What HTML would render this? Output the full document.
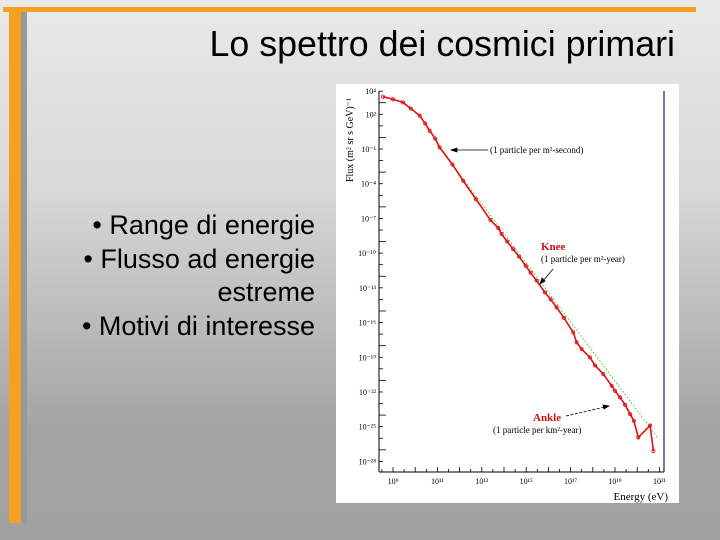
<!DOCTYPE html>
<html><head><meta charset="utf-8"><style>
html,body{margin:0;padding:0}
body{width:720px;height:540px;position:relative;overflow:hidden;background:linear-gradient(#e9e9e9 0%,#d8d8d8 35%,#a3a3a3 80%,#a1a1a1 100%);font-family:"Liberation Sans",sans-serif}
.abs{position:absolute}
</style></head><body>
<div class="abs" style="left:3px;top:7px;width:693px;height:5px;background:#f6a020"></div>
<div class="abs" style="left:9px;top:12px;width:18px;height:511px;background:#999"></div>
<div class="abs" style="left:9px;top:12px;width:12px;height:511px;background:#f6a020"></div>
<div class="abs" style="right:45px;top:23px;font-size:35.8px;line-height:42px;color:#000;white-space:nowrap">Lo spettro dei cosmici primari</div>
<div class="abs" style="right:405px;top:209px;font-size:27px;line-height:33.5px;text-align:right;white-space:nowrap;color:#000">• Range di energie<br>• Flusso ad energie<br>estreme<br>• Motivi di interesse</div>
<svg class="abs" style="left:0;top:0" width="720" height="540">
<rect x="336" y="84" width="343" height="419" fill="#fff"/>
<g id="axes"></g><g id="marks"></g>
<g font-family="Liberation Serif,serif" font-size="9" fill="#000">
<text x="490" y="153">(1 particle per m²-second)</text>
<text x="541" y="250" fill="#d01010" font-weight="bold" font-size="11">Knee</text>
<text x="541" y="262">(1 particle per m²-year)</text>
<text x="533" y="421" fill="#d01010" font-weight="bold" font-size="11">Ankle</text>
<text x="493" y="433">(1 particle per km²-year)</text>
<text x="668" y="500" text-anchor="end" font-size="11">Energy (eV)</text>
<text transform="translate(353,140) rotate(-90)" text-anchor="middle" font-size="10">Flux (m² sr s GeV)⁻¹</text>
</g>
<g stroke="#000" stroke-width="0.8" fill="#000">
<line x1="488" y1="150" x2="455" y2="150"/><path d="M451 150 l6 -2 v4z"/>
<line x1="553" y1="269" x2="543" y2="281"/><path d="M540 284 l2 -6 l3 3z"/>
<line x1="566" y1="416" x2="605" y2="407" stroke-dasharray="3 1.5"/><path d="M609 406 l-6 -1 l1 4z"/>
</g>
</svg>
<script>
const xTickExp=[9,11,13,15,17,19,21];
const xTickLabels=["10⁹","10¹¹","10¹³","10¹⁵","10¹⁷","10¹⁹","10²¹"];
const yTickExp=[4,2,-1,-4,-7,-10,-13,-16,-19,-22,-25,-28];
const yTickLabels=["10⁴","10²","10⁻¹","10⁻⁴","10⁻⁷","10⁻¹⁰","10⁻¹³","10⁻¹⁶","10⁻¹⁹","10⁻²²","10⁻²⁵","10⁻²⁸"];
const logE=[8.55,9.0,9.45,9.8,10.2,10.45,10.65,10.9,11.1,11.68,12.16,12.73,13.39,13.74,13.89,14.14,14.41,14.68,14.98,15.2,15.47,15.84,16.1,16.37,16.7,17.12,17.27,17.5,17.87,18.1,18.47,18.85,19.0,19.23,19.45,19.68,19.85,20.05,20.58,20.73];
const logF=[3.52,3.3,3.03,2.5,1.88,1.2,0.58,-0.1,-0.86,-2.35,-3.74,-5.32,-7.14,-7.83,-8.35,-8.98,-9.65,-10.3,-11.09,-11.7,-12.38,-13.39,-14.0,-14.69,-15.6,-16.85,-17.71,-18.3,-19.01,-19.7,-20.45,-21.46,-21.9,-22.47,-23.1,-23.91,-24.5,-25.93,-24.9,-27.1];
const fitE=[11.1,20.9];
const fitF=[-0.9,-25.9];
const X=e=>393+(e-9)*22.2, Y=f=>149-(f+1)*11.57;
const NS="http://www.w3.org/2000/svg";
function mk(tag,attrs,parent){const el=document.createElementNS(NS,tag);for(const k in attrs)el.setAttribute(k,attrs[k]);parent.appendChild(el);return el;}
const ax=document.getElementById('axes'), mg=document.getElementById('marks');
let a=mk('line',{x1:379,y1:91,x2:379,y2:472,stroke:'#000','stroke-width':1},ax);


a=mk('line',{x1:379,y1:472,x2:664,y2:472,stroke:'#000','stroke-width':1},ax);


a=mk('line',{x1:664,y1:91,x2:664,y2:472,stroke:'#1a1a6a','stroke-width':1.2},ax);


for(let e=8.5;e<=21;e+=0.5){mk('line',{x1:X(e),y1:472,x2:X(e),y2:Number.isInteger(e)?467:469,stroke:'#000','stroke-width':0.8},ax);}
for(let f=4;f>=-28;f--){mk('line',{x1:379,y1:Y(f),x2:f%3===0?386:383,y2:Y(f),stroke:'#000','stroke-width':0.8},ax);}
xTickExp.forEach((e,i)=>{const t=mk('text',{x:X(e),y:484,'text-anchor':'middle','font-size':8,'font-family':'Liberation Serif,serif'},ax);t.textContent=xTickLabels[i];

});
yTickExp.forEach((f,i)=>{const t=mk('text',{x:376,y:Y(f)+3,'text-anchor':'end','font-size':8,'font-family':'Liberation Serif,serif'},ax);t.textContent=yTickLabels[i];

});
const fl=mk('line',{x1:X(fitE[0]),y1:Y(fitF[0]),x2:X(fitE[1]),y2:Y(fitF[1]),stroke:'#3c3','stroke-width':1,'stroke-dasharray':'1.5 2'},mg);


const pl=mk('polyline',{points:logE.map((e,i)=>X(e)+','+Y(logF[i])).join(' '),fill:'none',stroke:'#e01010','stroke-width':1.6},mg);


logE.forEach((e,i)=>{const c=mk('circle',{cx:X(e),cy:Y(logF[i]),r:1.6,fill:'none',stroke:'#e01010','stroke-width':0.8},mg);

});
</script>
</body></html>
